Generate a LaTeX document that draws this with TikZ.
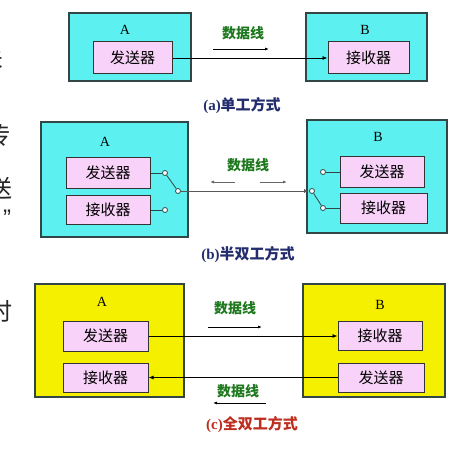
\documentclass[tikz,border=0pt]{standalone}
\usepackage{fontspec}
\setmainfont{Liberation Serif}
\newfontfamily\cjk{Noto Sans CJK SC}
\newfontfamily\quotefont{Liberation Sans}
\usetikzlibrary{arrows.meta}
\definecolor{boxcyan}{RGB}{92,240,240}
\definecolor{boxyellow}{RGB}{245,240,0}
\definecolor{unitpink}{RGB}{248,210,248}
\definecolor{edgegray}{RGB}{50,70,70}
\definecolor{wiregreen}{RGB}{30,120,30}
\definecolor{capnavy}{RGB}{35,45,110}
\definecolor{capred}{RGB}{190,45,30}
\tikzset{
  station/.style={draw=edgegray, line width=1.4pt, inner sep=0pt},
  unit/.style={draw=black!80, fill=unitpink, line width=1pt, inner sep=0pt, font=\cjk\fontsize{15}{15}\selectfont},
  pin/.style={circle, draw=edgegray, fill=white, line width=0.8pt, inner sep=0pt, minimum size=5pt},
  wiretext/.style={text=wiregreen, font=\cjk\bfseries\fontsize{14}{14}\selectfont},
  caption/.style={font=\bfseries\fontsize{15}{15}\selectfont},
  letter/.style={font=\fontsize{14}{14}\selectfont},
  slidetext/.style={text=black!85, font=\cjk\fontsize{24}{24}\selectfont},
  flow/.style={-{Latex[length=5pt,width=4pt]}, line width=0.8pt},
  hint/.style={-{Latex[length=4pt,width=3pt]}, line width=0.8pt},
}
\begin{document}
\begin{tikzpicture}[x=1pt,y=-1pt]
        \clip (0,0) rectangle (457,449);
        \fill[white] (0,0) rectangle (457,449);
        % cut-off slide text on the left
        \node[slidetext] (s1) at (-8,57) {关};
        \node[slidetext] (s2) at (-1,135) {传};
        \node[slidetext] (s3) at (0,188) {送};
        \node[slidetext, font=\quotefont\fontsize{24}{24}\selectfont] (s4) at (7,218) {”};
        \node[slidetext] (s5) at (0,311) {时};
        % (a) simplex
        \node[station, fill=boxcyan, minimum width=122pt, minimum height=68pt] (aA) at (130,47) {};
        \node[station, fill=boxcyan, minimum width=121pt, minimum height=68pt] (aB) at (366.5,47) {};
        \node[letter] (aAl) at (125,30) {A};
        \node[letter] (aBl) at (365,30) {B};
        \node[unit, minimum width=79pt, minimum height=32pt] (aAtx) at (132.5,58) {发送器};
        \node[unit, minimum width=81pt, minimum height=32pt] (aBrx) at (368.5,58) {接收器};
        \draw[flow] (aAtx.east) -- (aBrx.west);
        \node[wiretext] (aW) at (243,33) {数据线};
        \coordinate (aH1) at (213,49);
        \coordinate (aH2) at (269,49);
        \draw[hint] (aH1) -- (aH2);
        \node[caption, text=capnavy] (aCap) at (242,106) {(a){\cjk 单工方式}};
        % (b) half duplex
        \node[station, fill=boxcyan, minimum width=147pt, minimum height=115pt] (bA) at (114.5,179.5) {};
        \node[station, fill=boxcyan, minimum width=140pt, minimum height=113pt] (bB) at (377,176.5) {};
        \node[letter] (bAl) at (105,142) {A};
        \node[letter] (bBl) at (378,137) {B};
        \node[unit, minimum width=84pt, minimum height=30pt] (bAtx) at (108,173) {发送器};
        \node[unit, minimum width=84pt, minimum height=29pt] (bArx) at (108,210) {接收器};
        \node[unit, minimum width=84pt, minimum height=31pt] (bBtx) at (382,172) {发送器};
        \node[unit, minimum width=87pt, minimum height=30pt] (bBrx) at (383.5,208) {接收器};
        \node[pin] (bAc1) at (165,173) {};
        \node[pin] (bAc2) at (165,210) {};
        \node[pin] (bAp) at (178,191) {};
        \node[pin] (bBc1) at (323,172) {};
        \node[pin] (bBc2) at (323,208) {};
        \node[pin] (bBp) at (312,191) {};
        \draw[edgegray, line width=0.8pt] (bAtx.east) -- (bAc1);
        \draw[edgegray, line width=0.8pt] (bArx.east) -- (bAc2);
        \draw[edgegray, line width=0.8pt] (bAc1) -- (bAp);
        \draw[edgegray, line width=0.8pt] (bBc1) -- (bBtx.west);
        \draw[edgegray, line width=0.8pt] (bBc2) -- (bBrx.west);
        \draw[edgegray, line width=0.8pt] (bBp) -- (bBc2);
        \draw[flow, gray!70!black, line width=1pt] (bAp) -- (bBp);
        \node[wiretext] (bW) at (248,165) {数据线};
        \coordinate (bH1) at (235,182);
        \coordinate (bH2) at (210,182);
        \coordinate (bH3) at (260,182);
        \coordinate (bH4) at (287,182);
        \draw[hint, gray!80!black] (bH1) -- (bH2);
        \draw[hint, gray!80!black] (bH3) -- (bH4);
        \node[caption, text=capnavy] (bCap) at (248,255) {(b){\cjk 半双工方式}};
        % (c) full duplex
        \node[station, fill=boxyellow, minimum width=149pt, minimum height=113pt] (cA) at (109.5,340.5) {};
        \node[station, fill=boxyellow, minimum width=142pt, minimum height=113pt] (cB) at (374,340.5) {};
        \node[letter] (cAl) at (102,302) {A};
        \node[letter] (cBl) at (380,305) {B};
        \node[unit, minimum width=85pt, minimum height=30pt] (cAtx) at (105.5,336) {发送器};
        \node[unit, minimum width=85pt, minimum height=29pt] (cArx) at (105.5,377.5) {接收器};
        \node[unit, minimum width=84pt, minimum height=29pt] (cBrx) at (380,336) {接收器};
        \node[unit, minimum width=86pt, minimum height=29pt] (cBtx) at (381,377.5) {发送器};
        \draw[flow] (cAtx.east) -- (cBrx.west);
        \draw[flow] (cBtx.west) -- (cArx.east);
        \node[wiretext] (cW1) at (235,308) {数据线};
        \node[wiretext] (cW2) at (238,391) {数据线};
        \coordinate (cH1) at (208,327);
        \coordinate (cH2) at (262,327);
        \coordinate (cH3) at (266,403);
        \coordinate (cH4) at (213,403);
        \draw[hint] (cH1) -- (cH2);
        \draw[hint] (cH3) -- (cH4);
        \node[caption, text=capred] (cCap) at (252,425) {(c){\cjk 全双工方式}};
      \end{tikzpicture}
\end{document}
